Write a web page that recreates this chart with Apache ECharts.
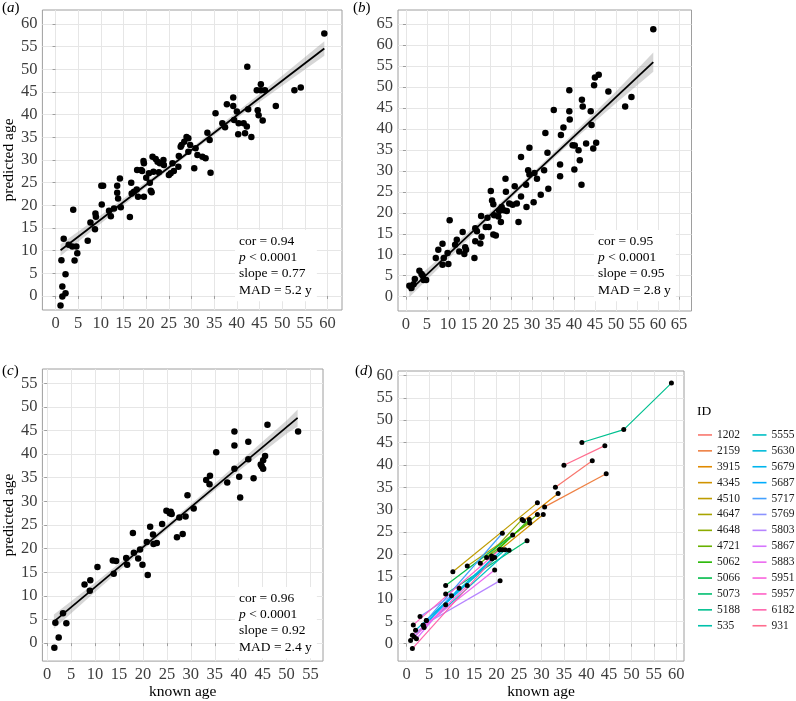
<!DOCTYPE html>
<html><head><meta charset="utf-8">
<script src="https://cdn.jsdelivr.net/npm/echarts@6/dist/echarts.min.js"></script>
<style>html,body{margin:0;padding:0;background:#fff}#c{width:796px;height:701px}</style>
</head><body><div id="c"></div>
<script>
// ---------- Panel (a) ----------
const aKnown = [1.1,1.5,1.5,2.2,2.2,1.3,1.8,3.9,3.7,4.6,4.2,4.8,2.9,7.1,7.7,8.7,8.8,8.9,10.1,10.5,10.2,11.8,12.2,12.9,13.6,13.6,13.8,14.2,14.4,16.4,16.7,16.8,17.3,17.9,18.0,18.2,18.9,19.1,19.4,19.5,19.5,20.0,20.6,20.8,21.0,21.2,21.4,21.6,22.1,22.5,22.8,23.0,23.8,23.9,25.0,25.4,25.8,26.1,27.1,27.2,27.6,27.8,28.4,28.9,29.3,29.7,29.3,30.6,30.9,31.3,32.4,33.1,33.5,34.0,34.2,35.3,36.8,37.4,37.8,39.2,39.2,39.4,40.0,40.3,40.4,41.5,41.8,42.2,42.3,42.5,43.2,44.4,44.6,44.8,45.3,45.3,45.7,46.2,48.6,52.7,54.1,59.3];
const aPred  = [-2.1,-0.1,2.1,0.6,4.8,7.9,12.6,19.0,10.9,10.9,7.8,9.4,11.3,12.2,16.2,14.7,18.2,17.5,24.3,24.3,20.2,18.8,17.6,19.3,24.3,22.8,21.5,25.9,19.6,17.4,25.0,22.6,23.0,23.5,27.8,21.9,27.8,27.6,29.8,29.3,21.9,26.1,27.1,25.0,23.2,22.9,30.7,27.4,30.2,29.6,27.3,29.3,30.0,28.9,26.7,27.1,29.3,27.6,28.5,30.9,32.9,33.3,34.0,35.1,34.8,33.3,31.8,28.2,32.6,31.1,30.7,30.4,36.0,34.4,27.2,40.3,38.1,37.2,42.3,43.8,41.9,38.8,40.7,35.7,38.1,38.1,35.9,37.4,50.6,41.2,35.1,45.4,41.0,39.9,46.7,45.4,38.7,45.4,41.9,45.4,46.0,57.9];
const aFitKnown = [1.1, 59.3];
const aFitPred  = [10.1, 54.6];
const aBandKnown = [1.1, 10, 20, 30, 40, 50, 59.3];
const aBandLo    = [8.8, 16.0, 24.0, 31.7, 39.2, 46.4, 53.0];
const aBandHi    = [11.4, 17.8, 25.2, 32.7, 40.6, 48.6, 56.2];
const aStats = ['cor = 0.94', '< 0.0001', 'slope = 0.77', 'MAD = 5.2 y'];

// ---------- Panel (b) ----------
const bKnown = [0.8,1.3,1.8,2.1,3.2,3.7,4.2,4.8,4.0,7.1,7.7,8.7,8.7,9.0,9.9,10.1,10.4,11.7,12.1,12.7,13.5,13.9,14.1,14.3,16.3,16.5,16.5,16.9,17.7,17.9,18.0,19.0,19.4,19.7,20.2,20.5,20.8,20.8,21.4,21.0,22.0,22.2,22.6,22.8,23.3,23.7,23.8,24.0,24.6,25.4,25.9,26.4,26.8,27.4,27.4,28.6,28.7,29.1,29.4,29.4,30.4,30.6,31.2,32.1,32.9,33.2,33.7,33.9,35.2,36.7,36.7,36.9,37.5,38.9,38.9,39.0,39.7,40.2,40.1,41.1,41.4,41.8,41.9,42.1,42.9,44.0,44.2,44.6,44.8,45.0,45.3,45.9,48.2,52.2,53.7,58.9];
const bPred  = [2.6,2.1,3.0,4.2,6.2,5.4,4.0,4.0,5.0,9.2,11.2,12.6,7.6,9.2,10.4,7.8,18.2,12.4,13.6,10.8,15.4,10.2,11.8,11.2,9.2,16.3,13.2,15.6,12.7,19.2,14.3,16.6,18.8,16.6,25.2,22.9,14.8,22.0,14.6,19.4,19.1,20.4,17.8,21.4,20.6,28.1,25.0,20.4,22.2,21.9,26.3,22.2,17.8,33.3,23.9,26.7,21.4,30.1,29.1,35.5,22.5,29.5,28.1,24.3,30.1,39.0,34.3,25.7,44.5,31.5,28.7,38.5,40.3,49.2,44.2,42.2,36.1,36.0,30.3,34.9,32.5,26.7,46.9,45.3,36.5,44.2,40.9,35.3,50.4,52.2,36.7,52.9,48.9,45.3,47.6,63.7];
const bFitKnown = [0.8, 58.9];
const bFitPred  = [1.4, 55.9];
const bBandKnown = [0.8, 10, 20, 30, 40, 50, 58.9];
const bBandLo    = [-0.1, 9.0, 18.7, 28.2, 37.4, 46.1, 53.6];
const bBandHi    = [2.9, 11.0, 20.1, 29.4, 39.0, 48.9, 58.2];
const bStats = ['cor = 0.95', '< 0.0001', 'slope = 0.95', 'MAD = 2.8 y'];

// ---------- Panel (c) ----------
const cKnown = [1.5,1.7,2.4,3.3,4.0,7.8,8.9,9.0,10.5,13.7,13.9,14.4,16.5,16.7,17.9,18.1,19.0,19.4,19.9,20.8,21.0,21.5,22.1,22.2,22.9,24.0,24.9,25.6,25.8,26.0,27.1,27.6,28.3,28.9,29.3,30.6,33.2,33.9,34.0,35.3,37.6,39.1,39.1,39.1,40.1,40.3,42.0,42.0,43.1,44.6,44.8,45.1,45.1,45.5,46.0,52.4];
const cPred  = [-1.0,4.3,1.2,6.3,4.2,12.4,11.1,13.3,16.1,17.5,14.7,17.4,18.0,16.6,23.3,19.1,17.9,19.8,16.6,21.4,14.4,24.6,23.0,21.0,21.2,25.2,28.0,27.5,27.8,27.3,22.4,26.6,23.1,26.8,31.3,28.5,34.5,33.6,35.4,40.4,34.0,36.9,41.8,44.8,35.2,30.8,42.6,38.9,34.9,37.8,37.4,36.9,38.7,39.6,46.2,44.8];
const cFitKnown = [1.4, 52.3];
const cFitPred  = [4.55, 47.65];
const cBandKnown = [1.4, 10, 20, 30, 40, 50, 52.3];
const cBandLo    = [3.05, 10.8, 19.7, 28.2, 36.4, 44.3, 45.85];
const cBandHi    = [6.05, 12.8, 20.9, 29.4, 38.2, 47.1, 49.45];
const cStats = ['cor = 0.96', '< 0.0001', 'slope = 0.92', 'MAD = 2.4 y'];

// ---------- Panel (d) ----------
const dIds = ['1202','2159','3915','4345','4510','4647','4648','4721','5062','5066','5073','5188','535',
              '5555','5630','5679','5687','5717','5769','5803','5867','5883','5951','5957','6182','931'];
const dKnown = [[33.1,41.3],[30.7,44.4],[26.0,33.7],[20.8,30.4],[10.3,29.1],[13.5,27.4],[17.8,25.7],[16.4,29.1],[18.9,27.3],[8.7,23.6],[8.7,26.8],[39.0,48.3,58.9],[4.4,21.9],
                [3.9,22.8],[2.0,19.0],[3.7,21.3],[1.7,11.7],[4.4,21.3],[3.0,10.0],[3.7,20.8],[2.2,8.7],[1.3,19.6],[0.9,13.5],[1.5,20.7],[1.3,19.6],[35.0,44.1]];
const dPred  = [[35.0,40.9],[30.6,38.0],[27.5,33.6],[21.0,28.9],[16.1,31.5],[17.4,27.0],[19.3,27.8],[18.0,28.9],[19.6,27.8],[13.0,24.3],[11.1,23.0],[45.0,47.9,58.3],[5.2,21.0],
                [3.6,20.9],[3.0,19.0],[4.1,21.0],[1.5,12.4],[5.2,24.7],[6.1,10.7],[4.1,14.1],[1.1,8.7],[1.9,16.5],[0.7,13.0],[4.2,21.0],[-1.1,19.3],[39.9,44.3]];

// ---------- tick labels ----------
const aTicks = [0,5,10,15,20,25,30,35,40,45,50,55,60];
const bTicks = [0,5,10,15,20,25,30,35,40,45,50,55,60,65];
const cTicks = [0,5,10,15,20,25,30,35,40,45,50,55];
const dTicks = [0,5,10,15,20,25,30,35,40,45,50,55,60];

// ---------- helpers ----------
function hcl(h, c, l) {
  const hr = h * Math.PI / 180, U = c * Math.cos(hr), V = c * Math.sin(hr);
  const Y = 100 * Math.pow((l + 16) / 116, 3);
  const un = 0.1978398, vn = 0.4683363;
  const u = U / (13 * l) + un, v = V / (13 * l) + vn;
  const X = 9 * Y * u / (4 * v), Z = -X / 3 - 5 * Y + 3 * Y / v;
  const g = t => { t = t / 100; t = t > 0.0031308 ? 1.055 * Math.pow(t, 1 / 2.4) - 0.055 : 12.92 * t;
    return Math.round(255 * Math.min(1, Math.max(0, t))); };
  const r = g(3.240479 * X - 1.537150 * Y - 0.498535 * Z);
  const gg = g(-0.969256 * X + 1.875992 * Y + 0.041556 * Z);
  const b = g(0.055648 * X - 0.204043 * Y + 1.057311 * Z);
  return '#' + [r, gg, b].map(n => n.toString(16).padStart(2, '0')).join('');
}
const nIds = dIds.length;
const dColors = dIds.map((_, i) => hcl((15 + i * 360 / nIds) % 360, 100, 65));

const FONT = 'Liberation Serif';
const zip = (xs, ys) => xs.map((x, i) => [x, ys[i]]);

function grid(left, top, width, height) {
  return { left, top, width, height, show: true, borderColor: '#9e9e9e', borderWidth: 1, backgroundColor: '#fff', containLabel: false };
}
function axis(type, gi, min, max, ticks, name) {
  const o = {
    type: 'value', gridIndex: gi, min, max, minInterval: 5, maxInterval: 5,
    axisLine: { show: false },
    axisTick: { show: true, length: 3, lineStyle: { color: '#9e9e9e' }, customValues: ticks },
    axisLabel: { show: true, customValues: ticks, margin: 5,
      fontFamily: FONT, fontSize: 16.5, color: '#3d3d3d' },
    splitLine: { show: true, lineStyle: { color: '#e6e6e6', width: 1 } }
  };
  if (name) {
    o.name = name; o.nameLocation = 'middle';
    o.nameTextStyle = { fontFamily: FONT, fontSize: 15.5, color: '#000' };
    o.nameGap = type === 'x' ? 19 : 21;
  }
  return o;
}
function bandSeries(gi, xs, lo, hi) {
  return {
    type: 'custom', xAxisIndex: gi, yAxisIndex: gi, silent: true, z: 2,
    data: xs.map((x, i) => [x, lo[i], hi[i]]),
    encode: { x: 0, y: [1, 2] },
    renderItem: (params, api) => {
      if (params.dataIndex !== 0) return;
      const pts = [];
      for (let i = 0; i < xs.length; i++) pts.push(api.coord([xs[i], lo[i]]));
      for (let i = xs.length - 1; i >= 0; i--) pts.push(api.coord([xs[i], hi[i]]));
      return { type: 'polygon', shape: { points: pts }, style: { fill: 'rgba(153,153,153,0.4)' } };
    }
  };
}
function fitSeries(gi, xs, ys) {
  return { type: 'line', xAxisIndex: gi, yAxisIndex: gi, data: zip(xs, ys), showSymbol: false, symbol: 'none',
    silent: true, z: 4, lineStyle: { color: '#000', width: 1.8 } };
}
function pointSeries(gi, xs, ys, size) {
  return { type: 'scatter', xAxisIndex: gi, yAxisIndex: gi, data: zip(xs, ys), symbolSize: size,
    itemStyle: { color: '#000', opacity: 1 }, silent: true, z: 3 };
}
function statText(x, y, s) {
  return { type: 'text', x, y, z: 100,
    style: {
      text: '{n|' + s[0] + '}\n{i|p}{n| ' + s[1] + '}\n{n|' + s[2] + '}\n{n|' + s[3] + '}',
      rich: { n: { fontFamily: FONT, fontSize: 13.5, lineHeight: 16.3, fill: '#000' },
              i: { fontFamily: FONT, fontSize: 13.5, lineHeight: 16.3, fontStyle: 'italic', fill: '#000' } },
      backgroundColor: '#fff', padding: [3, 5, 3, 4]
    } };
}
function panelLabel(x, y, letter) {
  return { type: 'text', x, y, z: 100,
    style: { text: '{n|(}{i|' + letter + '}{n|)}',
      rich: { n: { fontFamily: FONT, fontSize: 15, fill: '#000' },
              i: { fontFamily: FONT, fontSize: 15, fontStyle: 'italic', fill: '#000' } } } };
}

const series = [
  bandSeries(0, aBandKnown, aBandLo, aBandHi), pointSeries(0, aKnown, aPred, 6.5), fitSeries(0, aFitKnown, aFitPred),
  bandSeries(1, bBandKnown, bBandLo, bBandHi), pointSeries(1, bKnown, bPred, 6.5), fitSeries(1, bFitKnown, bFitPred),
  bandSeries(2, cBandKnown, cBandLo, cBandHi), pointSeries(2, cKnown, cPred, 6.5), fitSeries(2, cFitKnown, cFitPred)
];
const dAllK = [], dAllP = [];
dIds.forEach((id, i) => {
  series.push({ type: 'line', name: id, xAxisIndex: 3, yAxisIndex: 3, data: zip(dKnown[i], dPred[i]),
    showSymbol: false, symbol: 'none', silent: true, z: 3, color: dColors[i],
    lineStyle: { color: dColors[i], width: 1.2 }, itemStyle: { color: dColors[i] } });
  dKnown[i].forEach((k, j) => { dAllK.push(k); dAllP.push(dPred[i][j]); });
});
series.push(Object.assign(pointSeries(3, dAllK, dAllP, 5), { z: 5 }));

const legendBase = {
  orient: 'vertical', icon: 'rect', itemWidth: 14, itemHeight: 1.6, itemGap: 0, selectedMode: false,
  padding: 0,
  textStyle: { fontFamily: FONT, fontSize: 11.5, lineHeight: 15.9, color: '#1a1a1a', overflow: 'none', width: 40 }
};

const chart = echarts.init(document.getElementById('c'), null, { renderer: 'canvas' });
chart.setOption({
  animation: false,
  backgroundColor: '#fff',
  textStyle: { fontFamily: FONT },
  grid: [grid(42, 10, 300, 300), grid(398, 10, 293.5, 301), grid(42, 369, 281, 294), grid(398, 371, 286, 292)],
  xAxis: [axis('x', 0, -2.9, 63.2, aTicks), axis('x', 1, -1.9, 68, bTicks),
          axis('x', 2, -1.0, 57.6, cTicks, 'known age'), axis('x', 3, -1.9, 61.7, dTicks, 'known age')],
  yAxis: [axis('y', 0, -3.1, 63.1, aTicks, 'predicted age'), axis('y', 1, -3.4, 68.3, bTicks),
          axis('y', 2, -3.8, 58.0, cTicks, 'predicted age'), axis('y', 3, -3.9, 61.0, dTicks)],
  legend: [
    Object.assign({}, legendBase, { left: 698, top: 427, data: dIds.slice(0, 13) }),
    Object.assign({}, legendBase, { left: 752.5, top: 427, data: dIds.slice(13) })
  ],
  graphic: [
    statText(235, 230, aStats), statText(594, 230, bStats), statText(235, 587, cStats),
    panelLabel(2, 1, 'a'), panelLabel(353, 1, 'b'), panelLabel(2, 364, 'c'), panelLabel(355, 364, 'd'),
    { type: 'text', x: 697, y: 404, style: { text: 'ID', fontFamily: FONT, fontSize: 13.5, fill: '#000' } }
  ],
  series
});
</script></body></html>
